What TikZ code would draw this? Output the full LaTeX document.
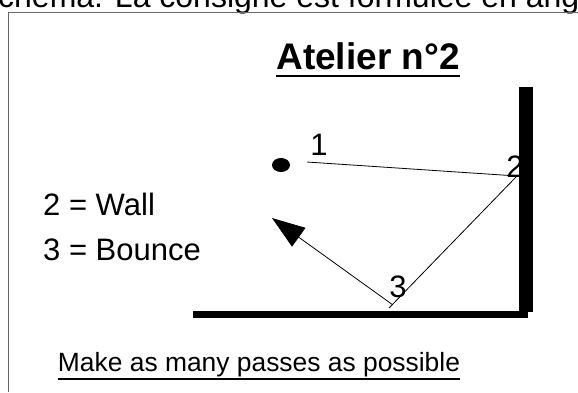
\documentclass[tikz,border=0pt]{standalone}
\usepackage{fontspec}
\setmainfont{Liberation Sans}
\usetikzlibrary{arrows.meta,positioning,shapes.geometric}

\begin{document}
\begin{tikzpicture}[
    x=1pt, y=-1pt,
    lbl/.style={inner sep=0pt, font=\fontsize{31}{36}\selectfont},
    heading/.style={inner sep=0pt, font=\fontsize{37}{42}\selectfont\bfseries},
    note/.style={inner sep=0pt, font=\fontsize{26.4}{30}\selectfont},
    frame/.style={draw=black!60, line width=1pt},
    wall/.style={fill=black},
    ball/.style={ellipse, fill=black, inner sep=0pt, minimum width=18pt, minimum height=14pt},
    pass/.style={draw, line width=0.8pt},
    shot/.style={pass, -{Triangle[length=33pt, width=23pt]}},
    rule/.style={line width=1.5pt}
]
\useasboundingbox (0,0) rectangle (578,392);
\clip (0,0) rectangle (578,392);

%% ── Cut-off line above the frame ─────────────────────────────────
\node[lbl, font=\fontsize{32}{36}\selectfont, anchor=base west] (above) at (-18,7)
    {schéma. La consigne est formulée en anglais};
\draw[frame] (8,392) -- (8,12) -- (578,12);

%% ── Title ────────────────────────────────────────────────────────
\node[heading, anchor=base] (title) at (368,69) {Atelier n°2};
\draw[rule, line width=2pt] ([yshift=-7pt]title.base west) -- ([yshift=-7pt]title.base east);

%% ── Legend ───────────────────────────────────────────────────────
\node[lbl, anchor=base west] (leg2) at (43,215) {2 = Wall};
\node[lbl, anchor=base west] (leg3) at (43,260) {3 = Bounce};

%% ── Walls ────────────────────────────────────────────────────────
\fill[wall] (519,87) rectangle (533,312);
\fill[wall] (193,311) rectangle (528,318);

%% ── Ball and points ──────────────────────────────────────────────
\node[ball] (ball) at (281,165) {};
\coordinate (start)   at (307,162);
\coordinate (hit)     at (517,176);
\coordinate (bounce)  at (389,308);
\coordinate (rebound) at (393,305);
\coordinate (tip)     at (272,218);

\node[lbl, anchor=base] (n1) at (319,155) {1};
\node[lbl, anchor=base] (n2) at (515,177) {2};
\node[lbl, anchor=base] (n3) at (398,297) {3};

%% ── Passes ───────────────────────────────────────────────────────
\draw[pass] (start) -- (hit) -- (bounce);
\draw[shot] (rebound) -- (tip);

%% ── Instruction ──────────────────────────────────────────────────
\node[note, anchor=base] (task) at (259,371) {Make as many passes as possible};
\draw[rule] ([yshift=-8pt]task.base west) -- ([yshift=-8pt]task.base east);
\end{tikzpicture}
\end{document}
